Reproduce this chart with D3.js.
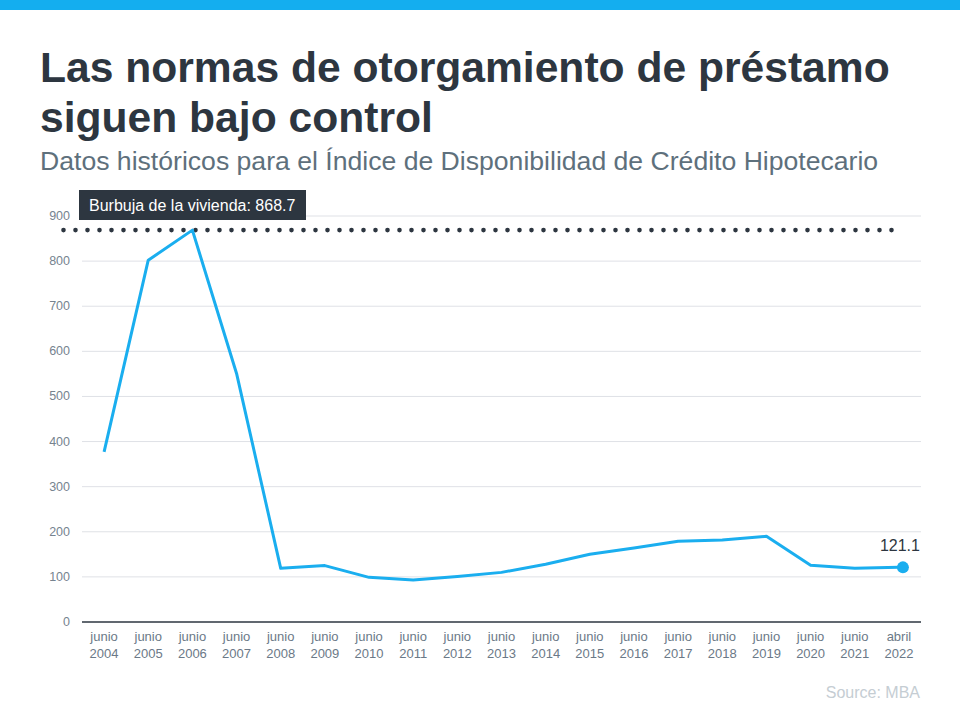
<!DOCTYPE html>
<html>
<head>
<meta charset="utf-8">
<script src="https://cdn.jsdelivr.net/npm/d3@7"></script>
<style>
  body { margin: 0; background: #fff; }
  svg { display: block; font-family: "Liberation Sans", Arial, sans-serif; }
</style>
</head>
<body>
<script>
var width = 960;
var height = 720;

// data
var months = ['junio', 'junio', 'junio', 'junio', 'junio', 'junio', 'junio', 'junio', 'junio', 'junio',
  'junio', 'junio', 'junio', 'junio', 'junio', 'junio', 'junio', 'junio', 'abril'];
var years = ['2004', '2005', '2006', '2007', '2008', '2009', '2010', '2011', '2012', '2013',
  '2014', '2015', '2016', '2017', '2018', '2019', '2020', '2021', '2022'];
var values = [377, 802, 868.7, 551, 119, 125, 99, 93, 101, 110,
  128, 150, 164, 179, 182, 190, 126, 119, 121.1];
var yTicks = [0, 100, 200, 300, 400, 500, 600, 700, 800, 900];
var bubble = 868.7;

var margin = {left: 82, right: 39, top: 216, bottom: 98};

var svg = d3.select('body').append('svg')
  .attr('width', width)
  .attr('height', height);

// top bar
svg.append('rect')
  .attr('x', 0).attr('y', 0)
  .attr('width', width).attr('height', 10)
  .attr('fill', '#14aeef');

// titles
svg.append('text')
  .attr('x', 40).attr('y', 82)
  .attr('font-size', 42.6).attr('font-weight', 'bold')
  .attr('fill', '#2d3640')
  .text('Las normas de otorgamiento de préstamo');
svg.append('text')
  .attr('x', 40).attr('y', 132)
  .attr('font-size', 42.6).attr('font-weight', 'bold')
  .attr('fill', '#2d3640')
  .text('siguen bajo control');
svg.append('text')
  .attr('x', 40).attr('y', 170)
  .attr('font-size', 26.6)
  .attr('fill', '#5e707c')
  .text('Datos históricos para el Índice de Disponibilidad de Crédito Hipotecario');

var x = d3.scalePoint()
  .domain(years)
  .range([margin.left, width - margin.right])
  .padding(0.5);

var y = d3.scaleLinear()
  .domain([0, 900])
  .range([height - margin.bottom, margin.top]);

// grid
svg.append('g')
  .selectAll('line')
  .data(yTicks.filter(function(d) { return d > 0; }))
  .enter().append('line')
  .attr('x1', margin.left).attr('x2', width - margin.right)
  .attr('y1', function(d) { return y(d); })
  .attr('y2', function(d) { return y(d); })
  .attr('stroke', '#dfe1e6')
  .attr('stroke-width', 1);

// y labels
svg.append('g')
  .selectAll('text')
  .data(yTicks)
  .enter().append('text')
  .attr('x', 70)
  .attr('y', function(d) { return y(d) + 4; })
  .attr('text-anchor', 'end')
  .attr('font-size', 12.5)
  .attr('fill', '#76838f')
  .text(function(d) { return d; });

// baseline
svg.append('line')
  .attr('x1', margin.left).attr('x2', width - margin.right)
  .attr('y1', y(0)).attr('y2', y(0))
  .attr('stroke', '#2d3640')
  .attr('stroke-width', 1.5);

// x labels
var xl = svg.append('g')
  .selectAll('text')
  .data(years)
  .enter().append('text')
  .attr('text-anchor', 'middle')
  .attr('font-size', 13)
  .attr('fill', '#6b7987');
xl.append('tspan')
  .attr('x', function(d) { return x(d); })
  .attr('y', y(0) + 19)
  .text(function(d, i) { return months[i]; });
xl.append('tspan')
  .attr('x', function(d) { return x(d); })
  .attr('y', y(0) + 36)
  .text(function(d) { return d; });

// dotted bubble line
var dots = d3.range(63.5, 895, 12);
svg.append('g')
  .selectAll('circle')
  .data(dots)
  .enter().append('circle')
  .attr('cx', function(d) { return d; })
  .attr('cy', y(bubble))
  .attr('r', 2.3)
  .attr('fill', '#2d3640');

// bubble label
svg.append('rect')
  .attr('x', 79).attr('y', 190)
  .attr('width', 227).attr('height', 30)
  .attr('fill', '#2d3640');
svg.append('text')
  .attr('x', 89).attr('y', 211)
  .attr('font-size', 16)
  .attr('fill', '#fff')
  .text('Burbuja de la vivienda:  868.7');

// line
var line = d3.line()
  .x(function(d, i) { return x(years[i]); })
  .y(function(d) { return y(d); });

svg.append('path')
  .datum(values)
  .attr('d', line)
  .attr('fill', 'none')
  .attr('stroke', '#1aaeef')
  .attr('stroke-width', 3)
  .attr('stroke-linejoin', 'round');

var last = values.length - 1;
svg.append('circle')
  .attr('cx', x(years[last]) + 4)
  .attr('cy', y(values[last]))
  .attr('r', 6)
  .attr('fill', '#1aaeef');

svg.append('text')
  .attr('x', x(years[last]) + 1)
  .attr('y', y(values[last]) - 16)
  .attr('text-anchor', 'middle')
  .attr('font-size', 16)
  .attr('fill', '#2d3640')
  .text(values[last]);

// source
svg.append('text')
  .attr('x', 920).attr('y', 698)
  .attr('text-anchor', 'end')
  .attr('font-size', 16)
  .attr('fill', '#c5cdd3')
  .text('Source: MBA');
</script>
</body>
</html>
